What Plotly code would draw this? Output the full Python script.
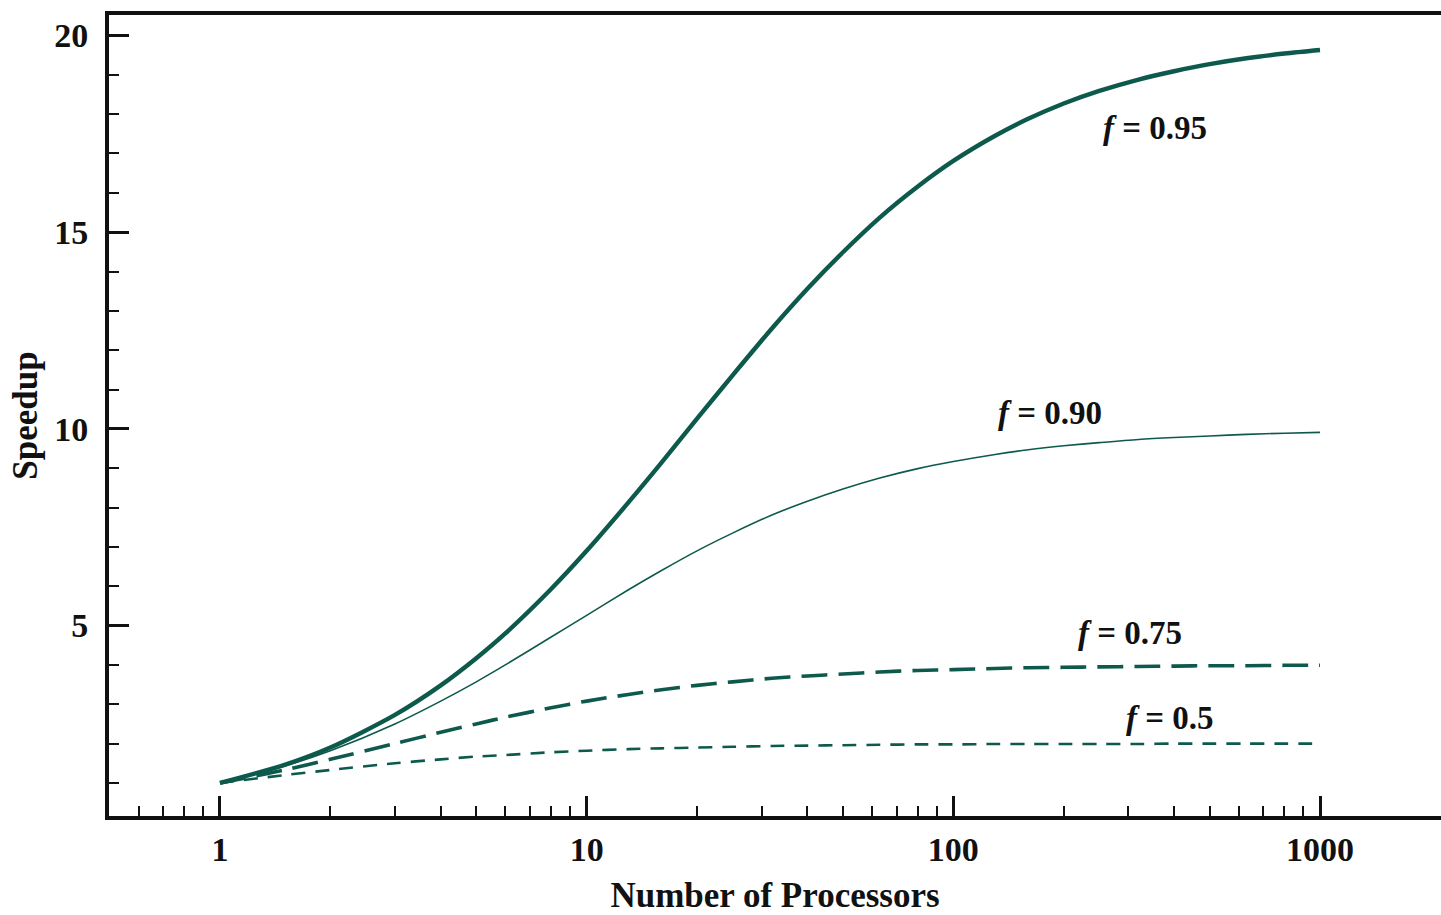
import math
import plotly.graph_objects as go

# Number of processors (x) and speedup values
processors = [1, 1.5, 2, 3, 4, 5, 6, 8, 10, 13, 16, 20, 25, 32, 40, 50, 63, 80, 100,
              130, 160, 200, 250, 320, 400, 500, 630, 800, 1000]

speedup_095 = [1.00, 1.46, 1.90, 2.73, 3.48, 4.17, 4.80, 5.93, 6.90, 8.13, 9.14, 10.26, 11.36, 12.55,
               13.56, 14.49, 15.37, 16.16, 16.81, 17.45, 17.88, 18.27, 18.59, 18.88, 19.09, 19.27,
               19.42, 19.54, 19.63]
speedup_090 = [1.00, 1.43, 1.82, 2.50, 3.08, 3.57, 4.00, 4.71, 5.26, 5.91, 6.40, 6.90, 7.35, 7.81,
               8.16, 8.47, 8.75, 8.99, 9.17, 9.35, 9.47, 9.57, 9.65, 9.73, 9.78, 9.82, 9.86, 9.89, 9.91]
speedup_075 = [1.00, 1.33, 1.60, 2.00, 2.29, 2.50, 2.67, 2.91, 3.08, 3.25, 3.37, 3.48, 3.57, 3.66,
               3.72, 3.77, 3.82, 3.86, 3.88, 3.91, 3.93, 3.94, 3.95, 3.96, 3.97, 3.98, 3.98, 3.99, 3.99]
speedup_050 = [1.00, 1.20, 1.33, 1.50, 1.60, 1.67, 1.71, 1.78, 1.82, 1.86, 1.88, 1.90, 1.92, 1.94,
               1.95, 1.96, 1.97, 1.98, 1.98, 1.99, 1.99, 1.99, 1.99, 1.99, 2.00, 2.00, 2.00, 2.00, 2.00]

label_text = ["<i>f</i> = 0.95", "<i>f</i> = 0.90", "<i>f</i> = 0.75", "<i>f</i> = 0.5"]
label_x = [355, 183, 303, 390]
label_y = [17.64, 10.40, 4.80, 2.65]

x_tick_vals = [1, 10, 100, 1000]
x_tick_text = ["1", "10", "100", "1000"]
x_minor_vals = [0.6, 0.7, 0.8, 0.9, 2, 3, 4, 5, 6, 7, 8, 9, 20, 30, 40, 50, 60, 70, 80, 90,
                200, 300, 400, 500, 600, 700, 800, 900]
y_tick_vals = [5, 10, 15, 20]

COLOR = "#0d5a4d"
FONT = "Liberation Serif"

fig = go.Figure()
series = [
    (speedup_095, dict(width=4.4, dash="solid")),
    (speedup_090, dict(width=1.6, dash="solid")),
    (speedup_075, dict(width=3.6, dash="26px,11px")),
    (speedup_050, dict(width=2.6, dash="14px,10px")),
]
for vals, ln in series:
    fig.add_trace(go.Scatter(
        x=processors, y=vals, mode="lines",
        line=dict(color=COLOR, shape="spline", smoothing=0.8, **ln),
        showlegend=False, hoverinfo="skip",
    ))

for t, lx, ly in zip(label_text, label_x, label_y):
    fig.add_annotation(x=math.log10(lx), y=ly, xref="x", yref="y", text=t, showarrow=False,
                       font=dict(family=FONT, size=33, color="#111", weight="bold"),
                       xanchor="center", yanchor="middle")

fig.update_xaxes(
    type="log", range=[-0.3027, 3.330],
    tickmode="array", tickvals=x_tick_vals, ticktext=x_tick_text,
    ticks="inside", ticklen=20, tickwidth=3, tickcolor="#111",
    minor=dict(tickmode="array", tickvals=x_minor_vals, ticks="inside",
               ticklen=10, tickwidth=2, tickcolor="#111", showgrid=False),
    showline=True, linecolor="#111", linewidth=4, mirror=True,
    showgrid=False, zeroline=False,
    tickfont=dict(family=FONT, size=34, color="#111", weight="bold"),
    ticklabelstandoff=0,
    title=dict(text="Number of Processors", standoff=19,
               font=dict(family=FONT, size=35, color="#111", weight="bold")),
)
fig.update_yaxes(
    range=[0.16, 20.52],
    tickmode="array", tickvals=y_tick_vals,
    ticks="inside", ticklen=20, tickwidth=3, tickcolor="#111",
    minor=dict(dtick=1, tick0=0, ticks="inside", ticklen=10, tickwidth=2,
               tickcolor="#111", showgrid=False),
    showline=True, linecolor="#111", linewidth=4, mirror=False,
    showgrid=False, zeroline=False,
    tickfont=dict(family=FONT, size=34, color="#111", weight="bold"),
    ticklabelstandoff=10,
    title=dict(text="Speedup", standoff=7,
               font=dict(family=FONT, size=35, color="#111", weight="bold")),
)

fig.update_layout(
    width=1441, height=915,
    margin=dict(l=109, r=0, t=15, b=99, pad=0),
    plot_bgcolor="white", paper_bgcolor="white",
)

fig.write_html("out.html", config={"displayModeBar": False},
               post_script="document.body.style.margin='0px';")
